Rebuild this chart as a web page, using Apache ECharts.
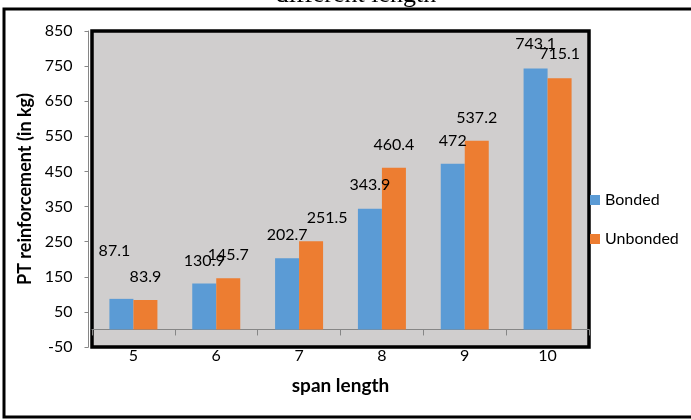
<!DOCTYPE html>
<html>
<head>
<meta charset="utf-8">
<script src="https://cdn.jsdelivr.net/npm/echarts@6/dist/echarts.min.js"></script>
<style>
  html, body { margin: 0; padding: 0; background: #fff; }
  #chart { width: 691px; height: 420px; }
</style>
</head>
<body>
<div id="chart"></div>
<script>
// ---- data ----
const categories = ['5', '6', '7', '8', '9', '10'];
const seriesNames = ['Bonded', 'Unbonded'];
const bonded = [87.1, 130.9, 202.7, 343.9, 472, 743.1];
const unbonded = [83.9, 145.7, 251.5, 460.4, 537.2, 715.1];
const yMin = -50, yMax = 850, yStep = 100;
const titleText = 'different length';
const xTitle = 'span length';
const yTitle = 'PT reinforcement (in kg)';

// ---- label nudges (style only, as in the reference) ----
const bondedLabelShift = [[-7, -25], [0, 0], [0, 0], [0, -1], [0, 0], [0, -2]];
const unbondedLabelShift = [[0, 0], [0, 0], [16, 0], [0, 0], [0, 0], [0, -2]];

const FONT = 'Lato';
const chart = echarts.init(document.getElementById('chart'), null, { renderer: 'canvas' });

function withShift(values, shifts) {
  return values.map((v, i) => ({ value: v, label: { offset: shifts[i] } }));
}

const labelStyle = {
  show: true, position: 'top', distance: 15,
  fontFamily: FONT, fontSize: 16, color: '#000'
};

chart.setOption({
  animation: false,
  textStyle: { fontFamily: FONT },
  grid: {
    left: 92, right: 102, top: 31, bottom: 73,
    show: true, backgroundColor: '#D0CECE',
    borderColor: '#000', borderWidth: 3.5
  },
  legend: {
    data: seriesNames,
    orient: 'vertical', left: 590, top: 192, padding: 0,
    itemWidth: 10, itemHeight: 10, itemGap: 23, icon: 'rect',
    textStyle: { fontFamily: FONT, fontSize: 16, color: '#000' }
  },
  xAxis: {
    type: 'category', data: categories,
    name: xTitle, nameLocation: 'middle', nameGap: 29,
    nameTextStyle: { fontFamily: FONT, fontSize: 19, fontWeight: 'bold', color: '#000' },
    axisLine: { show: true, onZero: true, lineStyle: { color: '#868686', width: 1 } },
    axisTick: { show: true, length: 6, inside: false, lineStyle: { color: '#868686' } },
    axisLabel: { margin: 1, fontFamily: FONT, fontSize: 16, color: '#000' },
    splitLine: { show: false }
  },
  yAxis: {
    type: 'value', min: yMin, max: yMax, interval: yStep, offset: 3.5,
    name: yTitle, nameLocation: 'middle', nameGap: 52,
    nameTextStyle: { fontFamily: FONT, fontSize: 18, fontWeight: 'bold', color: '#000' },
    axisLine: { show: true, lineStyle: { color: '#868686', width: 1 } },
    axisTick: { show: true, length: 4, lineStyle: { color: '#868686' } },
    axisLabel: { margin: 16, fontFamily: FONT, fontSize: 16, color: '#000' },
    splitLine: { show: false }
  },
  series: [
    {
      type: 'bar', name: seriesNames[0], data: withShift(bonded, bondedLabelShift),
      barWidth: 24, barGap: '0%',
      itemStyle: { color: '#5B9BD5' },
      label: labelStyle
    },
    {
      type: 'bar', name: seriesNames[1], data: withShift(unbonded, unbondedLabelShift),
      barWidth: 24, barGap: '0%',
      itemStyle: { color: '#ED7D31' },
      label: labelStyle
    }
  ],
  graphic: [
    {
      type: 'rect', z: 100, silent: true,
      shape: { x: 4, y: 9, width: 720, height: 408 },
      style: { fill: 'none', stroke: '#000', lineWidth: 3 }
    },
    {
      type: 'text', z: 100, silent: true, x: 356, y: -5,
      style: {
        text: titleText, font: '26px "Liberation Serif"', fill: '#000',
        align: 'center', verticalAlign: 'middle'
      }
    }
  ]
});
</script>
</body>
</html>
